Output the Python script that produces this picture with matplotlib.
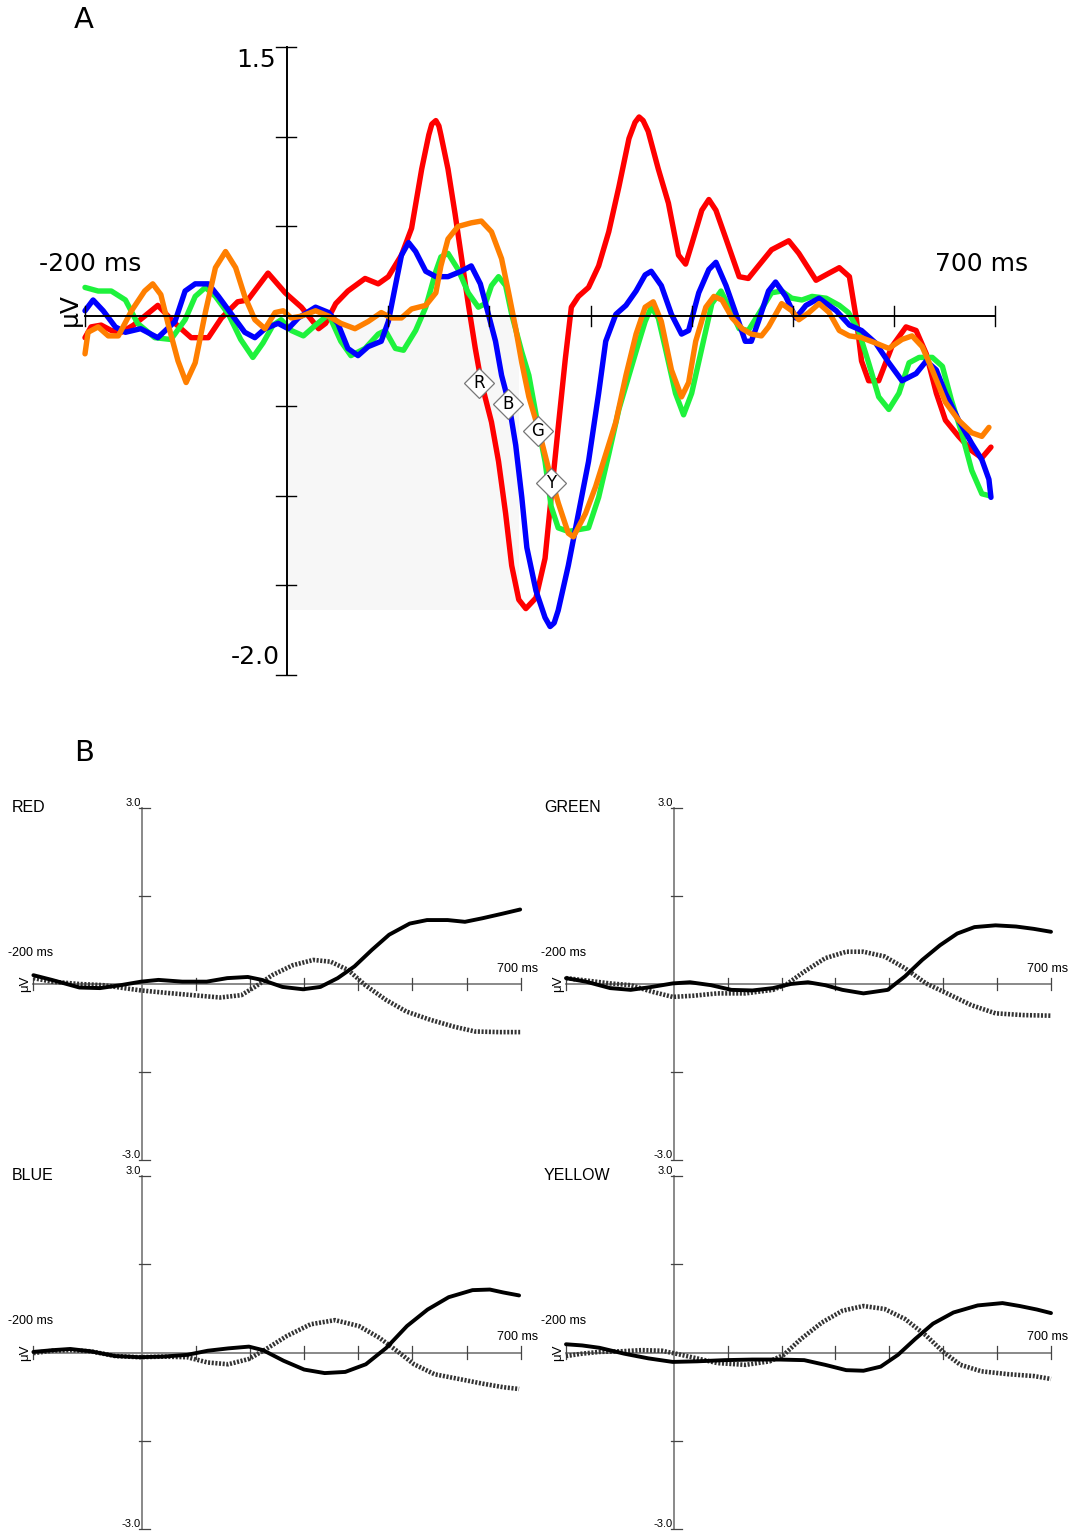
"""
ERP figure: (A) grand-average waveforms for four colour conditions,
(B) solid vs dotted difference waves per colour.
"""

import matplotlib.pyplot as plt

# ============================================================
# Panel A data (ms, microvolts)
# ============================================================

red_ms = [-200, -194, -184, -174, -164, -152, -141, -128, -111, -95,
          -78, -65, -49, -39, -19, -2, 14, 24, 31, 38,
          48, 60, 77, 90, 100, 113, 123, 133, 140, 143, 147, 150,
          152, 159, 166, 172, 179, 186, 192, 202, 209, 216,
          222, 229, 236, 246, 255, 261, 268, 275, 281, 288,
          298, 308, 318, 328, 338, 344, 348, 352, 357, 367, 377, 387,
          394, 400, 410, 417, 424, 434, 447, 456, 466, 479,
          496, 506, 523, 536, 546, 556, 563, 568, 575, 585,
          598, 612, 622, 632, 642, 651, 664, 677, 687, 696]
red_uv = [-0.12, -0.06, -0.05, -0.08, -0.09, -0.05, 0.00, 0.06, -0.04, -0.12,
          -0.12, -0.01, 0.08, 0.09, 0.24, 0.13, 0.05, -0.02, -0.07, -0.04,
          0.07, 0.14, 0.21, 0.18, 0.22, 0.34, 0.49, 0.82, 1.01, 1.07, 1.09, 1.06,
          1.01, 0.82, 0.57, 0.34, 0.07, -0.18, -0.37, -0.59, -0.81, -1.10,
          -1.39, -1.58, -1.63, -1.57, -1.35, -1.01, -0.62, -0.24, 0.05, 0.11,
          0.16, 0.28, 0.47, 0.72, 0.99, 1.08, 1.11, 1.09, 1.03, 0.82, 0.63, 0.34,
          0.29, 0.40, 0.59, 0.65, 0.59, 0.43, 0.22, 0.21, 0.28, 0.37,
          0.42, 0.35, 0.20, 0.24, 0.27, 0.22, -0.02, -0.25, -0.36, -0.36,
          -0.17, -0.06, -0.08, -0.21, -0.43, -0.58, -0.67, -0.75, -0.79, -0.73]

blue_ms = [-200, -192, -182, -170, -160, -145, -128, -111, -101, -91,
           -78, -68, -55, -42, -32, -22, -9, 1, 11, 28,
           41, 50, 60, 70, 80, 93, 100, 107, 113, 120,
           127, 137, 147, 159, 172, 182, 191, 199, 206, 212,
           219, 226, 232, 237, 246, 255, 260, 264, 268, 278, 288,
           298, 308, 315, 325, 335, 345, 354, 360, 370, 380,
           390, 397, 407, 417, 424, 434, 444, 453, 459, 466,
           476, 483, 493, 503, 513, 526, 543, 556, 568, 582,
           595, 608, 622, 632, 642, 651, 664, 677, 687, 694, 696]
blue_uv = [0.03, 0.09, 0.03, -0.06, -0.09, -0.07, -0.12, -0.03, 0.14, 0.18,
           0.18, 0.11, 0.01, -0.09, -0.12, -0.07, -0.04, -0.07, -0.01, 0.05,
           0.02, -0.04, -0.18, -0.22, -0.17, -0.14, -0.03, 0.17, 0.34, 0.41,
           0.36, 0.25, 0.22, 0.22, 0.25, 0.28, 0.18, 0.01, -0.14, -0.33,
           -0.48, -0.72, -1.01, -1.29, -1.53, -1.68, -1.73, -1.71, -1.64, -1.39, -1.10,
           -0.81, -0.43, -0.14, 0.01, 0.06, 0.14, 0.23, 0.25, 0.17, 0.01,
           -0.10, -0.08, 0.13, 0.26, 0.30, 0.17, 0.01, -0.14, -0.14, -0.03,
           0.14, 0.19, 0.11, -0.01, 0.06, 0.10, 0.03, -0.05, -0.08, -0.15,
           -0.26, -0.36, -0.32, -0.25, -0.30, -0.43, -0.58, -0.71, -0.80, -0.91, -1.01]

green_ms = [-200, -187, -174, -160, -148, -131, -115, -101, -91, -81,
            -71, -58, -46, -34, -24, -14, -6, 4, 16, 28,
            41, 53, 63, 77, 90, 97, 107, 115, 127, 137,
            147, 152, 159, 169, 179, 189, 196, 202, 209, 216,
            222, 232, 239, 249, 255, 261, 268, 278, 288, 298,
            308, 318, 328, 338, 348, 354, 360, 367, 374, 384,
            392, 400, 410, 420, 429, 437, 447, 456, 466, 479,
            489, 499, 509, 519, 533, 546, 555, 565, 575, 585,
            595, 605, 615, 625, 638, 648, 657, 667, 677, 687, 694]
green_uv = [0.16, 0.14, 0.14, 0.09, -0.04, -0.12, -0.13, -0.02, 0.11, 0.16,
            0.11, 0.01, -0.13, -0.23, -0.15, -0.05, -0.02, -0.08, -0.11, -0.05,
            0.01, -0.14, -0.22, -0.18, -0.10, -0.08, -0.18, -0.19, -0.08, 0.05,
            0.25, 0.33, 0.35, 0.26, 0.13, 0.05, 0.07, 0.17, 0.22, 0.17,
            0.01, -0.20, -0.33, -0.64, -0.81, -1.06, -1.18, -1.20, -1.19, -1.18,
            -1.01, -0.77, -0.52, -0.33, -0.14, -0.03, 0.05, -0.01, -0.18, -0.43,
            -0.55, -0.43, -0.18, 0.07, 0.14, 0.05, -0.07, -0.08, 0.01, 0.13,
            0.14, 0.10, 0.09, 0.11, 0.10, 0.06, 0.02, -0.08, -0.26, -0.45,
            -0.52, -0.43, -0.26, -0.23, -0.23, -0.28, -0.47, -0.65, -0.86, -0.99, -1.00]

orange_ms = [-200, -197, -187, -177, -167, -154, -141, -133, -125, -118,
             -108, -100, -91, -81, -71, -61, -51, -42, -32, -22,
             -12, -4, 4, 14, 28, 41, 53, 67, 80, 93,
             103, 113, 123, 137, 147, 152, 159, 169, 182, 192,
             202, 212, 219, 226, 232, 239, 249, 258, 268, 278,
             283, 295, 305, 315, 325, 335, 345, 354, 362, 370,
             380, 390, 397, 404, 414, 422, 430, 440, 450, 459,
             469, 476, 489, 499, 506, 516, 526, 536, 546, 556,
             568, 582, 595, 608, 618, 628, 638, 651, 664, 677, 687, 694]
orange_uv = [-0.21, -0.09, -0.06, -0.11, -0.11, 0.03, 0.14, 0.18, 0.12, -0.04,
             -0.25, -0.37, -0.26, 0.02, 0.27, 0.36, 0.27, 0.11, -0.02, -0.07,
             0.02, 0.03, -0.01, 0.00, 0.03, 0.00, -0.04, -0.07, -0.03, 0.02,
             -0.01, -0.01, 0.04, 0.06, 0.13, 0.28, 0.43, 0.50, 0.52, 0.53,
             0.47, 0.32, 0.13, -0.07, -0.26, -0.45, -0.64, -0.84, -1.04, -1.21,
             -1.23, -1.10, -0.95, -0.77, -0.59, -0.33, -0.10, 0.05, 0.08, -0.03,
             -0.30, -0.45, -0.37, -0.14, 0.05, 0.11, 0.09, -0.01, -0.07, -0.10,
             -0.11, -0.06, 0.07, 0.03, -0.02, 0.02, 0.07, 0.02, -0.08, -0.11,
             -0.12, -0.15, -0.18, -0.13, -0.11, -0.17, -0.30, -0.48, -0.58, -0.65, -0.67, -0.62]

# latency markers on the falling flank
marker_letters = ["R", "B", "G", "Y"]
marker_ms = [190, 218, 248, 261]
marker_uv = [-0.37, -0.49, -0.64, -0.93]

# shaded measurement window
window_ms = [0, 229]
window_floor_uv = -1.64

# ============================================================
# Panel B data (ms, microvolts)
# ============================================================

red_b_ms = [-200, -166, -115, -77, -39, -1, 31, 75, 120, 158, 196, 222, 260,
            298, 330, 362, 393, 425, 457, 495, 527, 565, 597, 629, 667, 699]
red_b_solid = [0.15, 0.07, -0.06, -0.07, -0.02, 0.04, 0.07, 0.04, 0.04, 0.10, 0.12, 0.07, -0.05,
               -0.09, -0.05, 0.10, 0.30, 0.58, 0.84, 1.03, 1.09, 1.09, 1.06, 1.12, 1.20, 1.27]
red_b_dot_ms = [-200, -166, -115, -71, -33, -1, 44, 94, 145, 184, 209, 241,
                279, 317, 349, 381, 413, 451, 489, 533, 578, 616, 661, 699]
red_b_dot = [0.10, 0.04, 0.00, -0.02, -0.07, -0.11, -0.15, -0.19, -0.23, -0.19, -0.05, 0.15,
             0.32, 0.41, 0.38, 0.24, -0.02, -0.27, -0.47, -0.61, -0.73, -0.81, -0.82, -0.82]

green_b_ms = [-200, -163, -118, -80, -41, -2, 30, 69, 107, 146, 184, 217, 249,
              281, 313, 352, 397, 429, 461, 494, 526, 558, 597, 635, 668, 700]
green_b_solid = [0.10, 0.04, -0.07, -0.10, -0.05, 0.01, 0.03, -0.02, -0.10, -0.11, -0.07, 0.00, 0.03,
                 -0.02, -0.10, -0.16, -0.10, 0.13, 0.41, 0.66, 0.86, 0.97, 1.00, 0.98, 0.94, 0.89]
green_b_dot_ms = [-200, -163, -118, -80, -41, -2, 36, 81, 133, 184, 210, 242,
                  281, 320, 352, 391, 429, 468, 507, 552, 597, 649, 700]
green_b_dot = [0.10, 0.06, 0.01, -0.02, -0.13, -0.22, -0.20, -0.16, -0.16, -0.10, 0.00, 0.21,
               0.44, 0.55, 0.55, 0.47, 0.27, 0.01, -0.16, -0.36, -0.50, -0.53, -0.54]

blue_b_ms = [-200, -164, -132, -94, -49, -5, 39, 84, 122, 160, 198, 224, 262,
             300, 338, 376, 414, 452, 490, 528, 567, 611, 643, 668, 697]
blue_b_solid = [0.01, 0.04, 0.06, 0.02, -0.06, -0.08, -0.07, -0.04, 0.03, 0.07, 0.10, 0.04, -0.14,
                -0.29, -0.35, -0.33, -0.20, 0.08, 0.45, 0.73, 0.94, 1.06, 1.07, 1.02, 0.97]
blue_b_dot_ms = [-200, -164, -132, -94, -49, -5, 39, 84, 122, 160, 198, 230,
                 268, 312, 357, 401, 439, 471, 503, 541, 586, 630, 668, 697]
blue_b_dot = [-0.01, 0.03, 0.04, 0.02, -0.06, -0.08, -0.07, -0.08, -0.17, -0.20, -0.11, 0.06,
              0.28, 0.48, 0.55, 0.45, 0.25, 0.03, -0.20, -0.37, -0.45, -0.53, -0.59, -0.62]

yellow_b_ms = [-200, -170, -138, -92, -47, -2, 43, 94, 146, 197, 242, 281,
               320, 352, 384, 416, 448, 481, 519, 564, 610, 642, 674, 700]
yellow_b_solid = [0.14, 0.12, 0.08, -0.02, -0.10, -0.16, -0.15, -0.13, -0.12, -0.12, -0.13, -0.21,
                  -0.30, -0.31, -0.24, -0.04, 0.23, 0.49, 0.68, 0.80, 0.84, 0.79, 0.73, 0.67]
yellow_b_dot_ms = [-200, -170, -138, -99, -60, -22, 4, 43, 81, 133, 178, 204, 236,
                   275, 313, 352, 391, 429, 468, 500, 532, 571, 622, 668, 700]
yellow_b_dot = [-0.06, -0.02, 0.01, 0.02, 0.04, 0.03, -0.02, -0.10, -0.18, -0.21, -0.15, -0.04, 0.23,
                0.51, 0.71, 0.79, 0.74, 0.57, 0.29, 0.01, -0.21, -0.32, -0.37, -0.40, -0.45]


# ============================================================
# Layout helpers (figure pixels -> figure fraction)
# ============================================================

W, H = 1075, 1534


def fx(x):
    return x / W


def fy(y):
    return 1 - y / H


def add_axes_px(fig, left, right, top, bottom):
    return fig.add_axes([fx(left), fy(bottom), (right - left) / W, (bottom - top) / H])


# ============================================================
# Panel A
# ============================================================

def draw_panel_a(fig):
    ax = add_axes_px(fig, 85, 995, 47, 675)
    ax.set_xlim(-200, 700)
    ax.set_ylim(-2.0, 1.5)
    ax.axis("off")

    ax.fill_between(window_ms, window_floor_uv, 0, color="#f7f7f7", lw=0, zorder=0)

    traces = [
        (red_ms, red_uv, "#ff0000"),
        (green_ms, green_uv, "#1ef23c"),
        (blue_ms, blue_uv, "#0000ff"),
        (orange_ms, orange_uv, "#ff7f00"),
    ]
    for t, v, c in traces:
        ax.plot(t, v, color=c, lw=3.9, solid_joinstyle="round",
                solid_capstyle="round", clip_on=False, zorder=2)

    # axes drawn by hand
    ax.plot([-200, 700], [0, 0], color="black", lw=1.4, zorder=5, clip_on=False)
    ax.plot([0, 0], [-2.0, 1.5], color="black", lw=1.4, zorder=5, clip_on=False)
    for t in [-200, 100, 200, 300, 400, 500, 600, 700]:
        ax.plot([t, t], [-0.056, 0.056], color="black", lw=1.0, zorder=5, clip_on=False)
    for v in [1.5, 1.0, 0.5, -0.5, -1.0, -1.5, -2.0]:
        ax.plot([-11, 9], [v, v], color="black", lw=1.0, zorder=5, clip_on=False)

    for letter, t, v in zip(marker_letters, marker_ms, marker_uv):
        ax.plot(t, v, marker="D", ms=15, mfc="white", mec="#777777", mew=0.9,
                zorder=6, clip_on=False)
        ax.text(t, v, letter, ha="center", va="center", fontsize=12, zorder=7)

    kw = dict(fontsize=18, family="DejaVu Sans")
    fig.text(fx(276), fy(60), "1.5", ha="right", va="center", **kw)
    fig.text(fx(280), fy(657), "-2.0", ha="right", va="center", **kw)
    fig.text(fx(90), fy(264), "-200 ms", ha="center", va="center", **kw)
    fig.text(fx(982), fy(264), "700 ms", ha="center", va="center", **kw)
    fig.text(fx(70), fy(309), "\u03bcV", ha="center", va="center", rotation=90, **kw)


# ============================================================
# Panel B
# ============================================================

def draw_small(fig, box, name, s_ms, s_uv, d_ms, d_uv):
    left, right, top, bottom = box
    ax = add_axes_px(fig, left, right, top, bottom)
    ax.set_xlim(-200, 700)
    ax.set_ylim(-3.0, 3.0)
    ax.axis("off")

    grey = "#808080"
    ax.plot([-200, 700], [0, 0], color=grey, lw=1.3, zorder=1, clip_on=False)
    ax.plot([0, 0], [-3.0, 3.0], color=grey, lw=1.3, zorder=1, clip_on=False)
    for t in [-200, 100, 200, 300, 400, 500, 600, 700]:
        ax.plot([t, t], [-0.11, 0.11], color="#444444", lw=0.9, zorder=1, clip_on=False)
    for v in [3.0, 1.5, -1.5, -3.0]:
        ax.plot([-5, 16], [v, v], color="#444444", lw=0.9, zorder=1, clip_on=False)

    ax.plot(d_ms, d_uv, color="#333333", lw=3.3, linestyle=(0, (0.45, 0.35)),
            clip_on=False, zorder=2)
    ax.plot(s_ms, s_uv, color="black", lw=2.8, solid_joinstyle="round",
            solid_capstyle="round", clip_on=False, zorder=3)

    zero_x = left + (right - left) * 200 / 900
    zero_y = (top + bottom) / 2
    kw = dict(family="Liberation Sans")
    fig.text(fx(left - 22), fy(top - 1), name, ha="left", va="center", fontsize=11.5, **kw)
    fig.text(fx(zero_x - 1), fy(top), "3.0", ha="right", va="bottom", fontsize=8, **kw)
    fig.text(fx(zero_x - 1), fy(bottom), "-3.0", ha="right", va="bottom", fontsize=8, **kw)
    fig.text(fx(left - 25), fy(zero_y - 31), "-200 ms", ha="left", va="center",
             fontsize=9, **kw)
    fig.text(fx(right - 3), fy(zero_y - 15), "700 ms", ha="center", va="center",
             fontsize=9, **kw)
    fig.text(fx(left - 8), fy(zero_y), "\u03bcV", ha="center", va="center",
             rotation=90, fontsize=9.5, **kw)


# ============================================================
# Main
# ============================================================

def main():
    fig = plt.figure(figsize=(W / 100, H / 100), dpi=100)

    draw_panel_a(fig)
    fig.text(fx(84), fy(20), "A", ha="center", va="center", fontsize=21,
             family="DejaVu Sans")
    fig.text(fx(84), fy(753), "B", ha="center", va="center", fontsize=21,
             family="DejaVu Sans")

    draw_small(fig, (33.4, 520.7, 808, 1160), "RED",
               red_b_ms, red_b_solid, red_b_dot_ms, red_b_dot)
    draw_small(fig, (566, 1051, 808, 1160), "GREEN",
               green_b_ms, green_b_solid, green_b_dot_ms, green_b_dot)
    draw_small(fig, (33.4, 520.7, 1176, 1529), "BLUE",
               blue_b_ms, blue_b_solid, blue_b_dot_ms, blue_b_dot)
    draw_small(fig, (566, 1051, 1176, 1529), "YELLOW",
               yellow_b_ms, yellow_b_solid, yellow_b_dot_ms, yellow_b_dot)

    fig.savefig("out.png", dpi=100, facecolor="white")


if __name__ == "__main__":
    main()
